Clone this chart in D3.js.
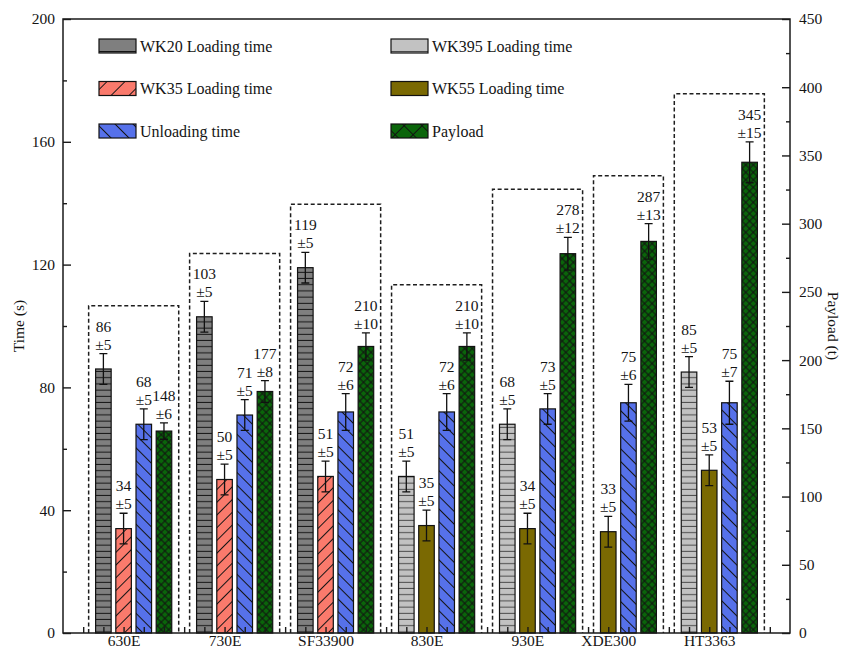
<!DOCTYPE html>
<html>
<head>
<meta charset="utf-8">
<script src="https://cdn.jsdelivr.net/npm/d3@7"></script>
<style>
  body { margin: 0; background: #fff; }
  svg { display: block; }
  text { font-family: "Liberation Serif", "Times New Roman", serif; fill: #141414; }
</style>
</head>
<body>
<svg id="chart" width="841" height="648"></svg>
<script>
// ---- data ----
const categories = ["630E", "730E", "SF33900", "830E", "930E", "XDE300", "HT3363"];

const wk20Time  = [86, 103, 119, null, null, null, null];
const wk20Err   = [5, 5, 5, null, null, null, null];
const wk395Time = [null, null, null, 51, 68, null, 85];
const wk395Err  = [null, null, null, 5, 5, null, 5];
const wk35Time  = [34, 50, 51, null, null, null, null];
const wk35Err   = [5, 5, 5, null, null, null, null];
const wk55Time  = [null, null, null, 35, 34, 33, 53];
const wk55Err   = [null, null, null, 5, 5, 5, 5];
const unloadTime = [68, 71, 72, 72, 73, 75, 75];
const unloadErr  = [5, 5, 6, 6, 5, 6, 7];
const payload    = [148, 177, 210, 210, 278, 287, 345];
const payloadErr = [6, 8, 10, 10, 12, 13, 15];

const timeTicks = [0, 40, 80, 120, 160, 200];
const timeMinor = [20, 60, 100, 140, 180];
const payloadTicks = [0, 50, 100, 150, 200, 250, 300, 350, 400, 450];
const payloadMinor = [25, 75, 125, 175, 225, 275, 325, 375, 425];
// x axis runs over bar slots; category names sit on these slot ticks
const categoryTickSlots = [2, 7, 12, 17, 22, 26, 31];

// ---- series definitions (bar order inside a group) ----
const series = [
  { key: "wk20",  name: "WK20 Loading time",  values: wk20Time,  errors: wk20Err,  axis: "time",    fill: "#7f7f7f", hatch: "h",     ink: "#151515" },
  { key: "wk395", name: "WK395 Loading time", values: wk395Time, errors: wk395Err, axis: "time",    fill: "#c2c2c2", hatch: "h",     ink: "#4a4a4a" },
  { key: "wk35",  name: "WK35 Loading time",  values: wk35Time,  errors: wk35Err,  axis: "time",    fill: "#fa7a6c", hatch: "fwd",   ink: "#151515" },
  { key: "wk55",  name: "WK55 Loading time",  values: wk55Time,  errors: wk55Err,  axis: "time",    fill: "#7a6902", hatch: null,    ink: "#151515" },
  { key: "unl",   name: "Unloading time",     values: unloadTime, errors: unloadErr, axis: "time",  fill: "#5671ea", hatch: "back",  ink: "#151515" },
  { key: "pay",   name: "Payload",            values: payload,   errors: payloadErr, axis: "payload", fill: "#0a650a", hatch: "cross", ink: "#111" }
];
const legendCols = [["wk20", "wk35", "unl"], ["wk395", "wk55", "pay"]];

// ---- layout ----
const W = 841, H = 648;
const plot = { left: 63, right: 790, top: 19, bottom: 633 };
const FONT = 15.5;

const svg = d3.select("#chart");
const defs = svg.append("defs");

// ---- fill patterns ----
function makePattern(id, s, size) {
  const p = defs.append("pattern")
    .attr("id", id)
    .attr("patternUnits", "userSpaceOnUse")
    .attr("width", size).attr("height", size);
  p.append("rect").attr("width", size).attr("height", size).attr("fill", s.fill);
  const line = (x1, y1, x2, y2) => p.append("line")
    .attr("x1", x1).attr("y1", y1).attr("x2", x2).attr("y2", y2)
    .attr("stroke", s.ink).attr("stroke-width", 1);
  if (s.hatch === "h") {
    line(0, size - 0.5, size, size - 0.5);
  } else if (s.hatch === "fwd" || s.hatch === "back") {
    p.attr("patternTransform", `rotate(${s.hatch === "fwd" ? 45 : -45})`);
    line(size / 2, 0, size / 2, size);
  } else if (s.hatch === "cross") {
    p.attr("patternTransform", "rotate(45)");
    line(size / 2, 0, size / 2, size);
    line(0, size / 2, size, size / 2);
  }
}
const barSize = { h: 6.2, fwd: 9, back: 9, cross: 5.3 };
const legSize = { h: 13, fwd: 12.7, back: 12.7, cross: 12.7 };
series.forEach(s => {
  makePattern("bar-" + s.key, s, s.hatch ? barSize[s.hatch] : 10);
  makePattern("leg-" + s.key, s, s.hatch ? legSize[s.hatch] : 10);
});

// ---- scales ----
const x = d3.scaleLinear().domain([-1, 35]).range([plot.left, plot.right]);
const yTime = d3.scaleLinear().domain([0, 200]).range([plot.bottom, plot.top]);
const yPay = d3.scaleLinear().domain([0, 450]).range([plot.bottom, plot.top]);
const yOf = s => (s.axis === "payload" ? yPay : yTime);

// ---- assign every bar a slot: groups of consecutive slots, one empty slot between ----
const bars = [];
const groups = [];
let slot = 1;
categories.forEach((cat, i) => {
  const g = { cat, first: slot, last: slot, bars: [] };
  series.forEach(s => {
    const v = s.values[i];
    if (v == null) return;
    const b = { cat, s, value: v, err: s.errors[i], slot };
    bars.push(b); g.bars.push(b);
    g.last = slot;
    slot += 1;
  });
  groups.push(g);
  slot += 1;
});

const slotW = x(1) - x(0);
const barW = slotW * 0.77;
const capW = 8;

// label baselines relative to the top of the error bar
bars.forEach(b => {
  const y = yOf(b.s);
  b.errTop = y(b.value + b.err);
  b.pmBase = b.errTop - 4;
  b.valBase = b.errTop - 22;
});

// ---- dashed group frames ----
const frameG = svg.append("g");
groups.forEach(g => {
  const top = d3.min(g.bars, b => b.valBase) - 26;
  const x0 = x(g.first - 0.73), x1 = x(g.last + 0.73);
  frameG.append("path")
    .attr("d", `M${x0},${plot.bottom}V${top}H${x1}V${plot.bottom}`)
    .attr("fill", "none")
    .attr("stroke", "#1e1e1e")
    .attr("stroke-width", 1.5)
    .attr("stroke-dasharray", "4,2.6");
});

// ---- bars ----
svg.append("g").selectAll("rect")
  .data(bars)
  .join("rect")
  .attr("x", b => x(b.slot) - barW / 2)
  .attr("width", barW)
  .attr("y", b => yOf(b.s)(b.value))
  .attr("height", b => plot.bottom - yOf(b.s)(b.value))
  .attr("fill", b => `url(#bar-${b.s.key})`)
  .attr("stroke", "#111")
  .attr("stroke-width", 1.2);

// ---- error bars ----
const eb = svg.append("g").attr("stroke", "#111").attr("stroke-width", 1.3).attr("fill", "none");
bars.forEach(b => {
  const y = yOf(b.s), cx = x(b.slot);
  const lo = y(b.value - b.err), hi = y(b.value + b.err);
  eb.append("path").attr("d",
    `M${cx},${lo}V${hi}M${cx - capW / 2},${hi}H${cx + capW / 2}M${cx - capW / 2},${lo}H${cx + capW / 2}`);
});

// ---- value labels ----
const lab = svg.append("g").attr("font-size", FONT).attr("text-anchor", "middle");
bars.forEach(b => {
  lab.append("text").attr("x", x(b.slot)).attr("y", b.valBase).text(b.value);
  lab.append("text").attr("x", x(b.slot)).attr("y", b.pmBase).text("\u00b1" + b.err);
});

// ---- frame ----
svg.append("rect")
  .attr("x", plot.left).attr("y", plot.top)
  .attr("width", plot.right - plot.left).attr("height", plot.bottom - plot.top)
  .attr("fill", "none").attr("stroke", "#1a1a1a").attr("stroke-width", 1.5);

// ---- axes ----
function styleAxis(g) {
  g.select(".domain").remove();
  g.selectAll(".tick line").attr("stroke", "#1a1a1a").attr("stroke-width", 1.4);
  g.selectAll(".tick text").attr("font-size", FONT).attr("font-family", null).attr("fill", "#141414");
}
svg.append("g").attr("transform", `translate(${plot.left},0)`)
  .call(d3.axisLeft(yTime).tickValues(timeTicks).tickSizeInner(-8).tickSizeOuter(0).tickPadding(8))
  .call(styleAxis);
svg.append("g").attr("transform", `translate(${plot.left},0)`)
  .call(d3.axisLeft(yTime).tickValues(timeMinor).tickSizeInner(-4).tickSizeOuter(0).tickFormat(""))
  .call(styleAxis);
svg.append("g").attr("transform", `translate(${plot.right},0)`)
  .call(d3.axisRight(yPay).tickValues(payloadTicks).tickSizeInner(-8).tickSizeOuter(0).tickPadding(9))
  .call(styleAxis);
svg.append("g").attr("transform", `translate(${plot.right},0)`)
  .call(d3.axisRight(yPay).tickValues(payloadMinor).tickSizeInner(-4).tickSizeOuter(0).tickFormat(""))
  .call(styleAxis);
svg.append("g").attr("transform", `translate(0,${plot.bottom})`)
  .call(d3.axisBottom(x).tickValues(d3.range(0, 35)).tickSizeInner(-6).tickSizeOuter(0).tickFormat(""))
  .call(styleAxis);
svg.append("g").attr("transform", `translate(0,${plot.bottom})`)
  .call(d3.axisBottom(x).tickValues(categoryTickSlots).tickSize(0).tickPadding(2)
    .tickFormat((d, i) => categories[i]))
  .call(styleAxis);

// ---- axis titles ----
svg.append("text")
  .attr("transform", `translate(19,${(plot.top + plot.bottom) / 2}) rotate(-90)`)
  .attr("text-anchor", "middle").attr("dy", "0.35em").attr("font-size", FONT)
  .text("Time (s)");
svg.append("text")
  .attr("transform", `translate(833,${(plot.top + plot.bottom) / 2}) rotate(90)`)
  .attr("text-anchor", "middle").attr("dy", "0.35em").attr("font-size", FONT)
  .text("Payload (t)");

// ---- legend ----
const legend = svg.append("g");
const colX = [99, 391];
legendCols.forEach((col, ci) => {
  col.forEach((key, ri) => {
    const s = series.find(d => d.key === key);
    const cy = 46 + ri * 42.5;
    legend.append("rect")
      .attr("x", colX[ci]).attr("y", cy - 7)
      .attr("width", 37).attr("height", 14)
      .attr("fill", `url(#leg-${s.key})`)
      .attr("stroke", "#111").attr("stroke-width", 1.2);
    legend.append("text")
      .attr("x", colX[ci] + 41).attr("y", cy + 5.5)
      .attr("font-size", 16)
      .text(s.name);
  });
});
</script>
</body>
</html>
